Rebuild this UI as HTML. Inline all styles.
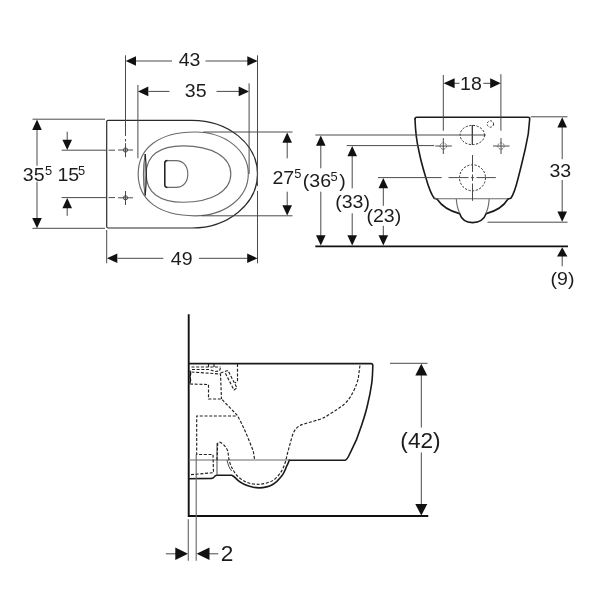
<!DOCTYPE html>
<html>
<head>
<meta charset="utf-8">
<title>Wall-hung WC dimensions</title>
<style>
html,body{margin:0;padding:0;background:#fff;}
body{width:606px;height:600px;overflow:hidden;}
svg{display:block;filter:grayscale(1);}
text{font-family:"Liberation Sans",sans-serif;fill:#1c1c1c;}
.n{fill:none;stroke:#4a4a4a;stroke-width:1;}
.g{fill:none;stroke:#6a6a6a;stroke-width:1.15;}
.k{fill:none;stroke:#1a1a1a;stroke-width:1.6;stroke-linejoin:round;stroke-linecap:round;}
.m{fill:none;stroke:#2a2a2a;stroke-width:1.2;}
.d{fill:none;stroke:#222;stroke-width:1.15;stroke-dasharray:3 1.7;}
.c{fill:none;stroke:#2e2e2e;stroke-width:1;stroke-dasharray:2.2 1.5;}
.a{fill:#111;stroke:none;}
</style>
</head>
<body>
<svg width="606" height="600" viewBox="0 0 606 600">
<rect width="606" height="600" fill="#fff"/>
<g id="plan">
<path class="m" d="M106.7 121.5 Q106.7 120.3 108 120.3 L192 120.3 C228 120.3 257.5 144 257.5 174 C257.5 204 228 228 192 228 L108.2 228 Q106.7 228 106.7 226.5 Z"/>
<path class="g" d="M138.2 174 C138.2 148 159 132 195 132 C226 132 248.3 151 248.3 174 C248.3 197 226 215.8 195 215.8 C159 215.8 138.2 200 138.2 174 Z"/>
<path class="g" d="M146.2 174 C146.2 155 160 145.8 183 145.8 C212 145.8 230.8 157 230.8 174 C230.8 191 212 202.2 183 202.2 C160 202.2 146.2 193 146.2 174 Z"/>
<path d="M145.2 154 Q141.6 174 145.2 195.5 Q147.4 174 145.2 154 Z" fill="#bdbdbd" stroke="none"/>
<path class="g" d="M145.2 154 Q141.6 174 145.2 195.5"/>
<path d="M145.2 154 Q147.4 174 145.2 195.5" fill="none" stroke="#222" stroke-width="1.2"/>
<path class="g" d="M166.3 160.6 L176 160.6 C183.5 160.6 187.8 166 187.8 174 C187.8 182 183.5 187.4 176 187.4 L166.3 187.4"/>
<path d="M167.3 160.6 Q164.8 160.8 164.8 163 L164.8 185 Q164.8 187.2 167.3 187.4" fill="none" stroke="#1a1a1a" stroke-width="1.5"/>
<path class="n" d="M125.5 55.3 V136 M125.5 139 V141.5 M257.5 55.3 V186 M257.5 190.8 V263.3"/>
<path class="n" d="M136 61 H172 M205.5 61 H248"/>
<polygon class="a" points="125.7,61.0 136.0,56.2 136.0,65.8"/>
<polygon class="a" points="257.6,61.0 247.3,56.2 247.3,65.8"/>
<text transform="translate(189.6,66.1) scale(1.03,1)" font-size="19.0" text-anchor="middle">43</text>
<path class="n" d="M137.9 85 V158.3 M249.1 83.3 V174"/>
<path class="n" d="M148.5 91.4 H169.5 M216.5 91.4 H239"/>
<polygon class="a" points="138.0,91.4 148.3,86.6 148.3,96.2"/>
<polygon class="a" points="249.0,91.4 238.7,86.6 238.7,96.2"/>
<text transform="translate(195.7,96.5) scale(1.03,1)" font-size="19.0" text-anchor="middle">35</text>
<path class="n" d="M106.7 230 V263.3"/>
<path class="n" d="M117.5 258.3 H163.3 M199 258.3 H247.5"/>
<polygon class="a" points="107.0,258.3 117.3,253.5 117.3,263.1"/>
<polygon class="a" points="257.5,258.3 247.2,253.5 247.2,263.1"/>
<text transform="translate(181.7,265.3) scale(1.03,1)" font-size="19.0" text-anchor="middle">49</text>
<g class="n"><circle cx="125.5" cy="150" r="2.1"/><path d="M125.5 143.2 V157.2 M118 150 H133"/><circle cx="125.5" cy="197.8" r="2.1"/><path d="M125.5 191 V205 M118 197.8 H133"/></g>
<path class="n" d="M61.7 150.2 H106.7 M108.5 150.2 H115 M61.7 197.6 H106.7 M108.5 197.6 H115"/>
<path class="n" d="M67.2 131.7 V141 M67.2 207 V215.8"/>
<polygon class="a" points="67.2,150.0 62.4,139.7 72.0,139.7"/>
<polygon class="a" points="67.2,198.0 62.4,208.3 72.0,208.3"/>
<path class="n" d="M32.5 119.2 H105 M32.5 228.3 H105"/>
<path class="n" d="M37 129 V165.8 M37 181.7 V219"/>
<polygon class="a" points="37.0,119.6 32.2,129.9 41.8,129.9"/>
<polygon class="a" points="37.0,228.2 32.2,217.9 41.8,217.9"/>
<text transform="translate(22.8,181.1) scale(1.03,1)" font-size="19.0" text-anchor="start">35</text>
<text transform="translate(44.9,174.9) scale(1.03,1)" font-size="12.5" text-anchor="start">5</text>
<text transform="translate(57.4,181.1) scale(1.03,1)" font-size="19.0" text-anchor="start">15</text>
<text transform="translate(77.9,174.9) scale(1.03,1)" font-size="12.5" text-anchor="start">5</text>
<path class="n" d="M203.3 132 H292.5 M201.7 215.8 H292.5"/>
<path class="n" d="M287.2 142 V158.3 M287.2 191.7 V206.5"/>
<polygon class="a" points="287.2,132.4 282.4,142.7 292.0,142.7"/>
<polygon class="a" points="287.2,215.6 282.4,205.3 292.0,205.3"/>
<text transform="translate(272.4,183.6) scale(1.03,1)" font-size="19.0" text-anchor="start">27</text>
<text transform="translate(294.2,177.8) scale(1.03,1)" font-size="12.5" text-anchor="start">5</text>
</g>
<g id="rear">
<path d="M315.3 246.3 H568" fill="none" stroke="#111" stroke-width="1.8"/>
<path class="k" d="M415 119 Q415 117.2 416.8 117.2 L528 117.2 Q529.8 117.2 529.7 119 C529 135 526 146 525 150 C522 163 520 171 518.3 177.5 C516 187 514 194 510.8 198.3 L508 199"/>
<path class="k" d="M415 119 C415.5 133 417.5 145 418.7 150 C421 162 423.5 170 425.8 177.5 C428.5 187 431 194 434.2 198.3 L437 199"/>
<path class="k" d="M437 199 C442 206.5 450.5 211.3 459.6 213.6 C461.6 220 467 222.6 472.5 222.6 C478 222.6 484 220 486.2 213.6 C495.5 211.3 503.5 206.5 508 199"/>
<path class="g" d="M434.2 198.7 H507.5"/>
<path class="g" d="M456.3 199 C456.8 205 457.8 210 460 213.3 M489.2 199 C488.7 205 487.8 210 485.8 213.3"/>
<path class="n" d="M443.3 75 V130.7 M500.9 74.2 V130.7"/>
<path class="n" d="M454 83.3 H459.5 M483.3 83.3 H491"/>
<polygon class="a" points="443.6,83.3 454.6,78.3 454.6,88.3"/>
<polygon class="a" points="500.8,83.3 490.2,78.3 490.2,88.3"/>
<text transform="translate(470.9,90.3) scale(1.03,1)" font-size="19.0" text-anchor="middle">18</text>
<g class="n"><circle cx="443.3" cy="146" r="3.2" stroke-dasharray="1.6 1.2"/><path d="M443.3 138 V154 M435.3 146 H451.8"/><circle cx="501" cy="146" r="3.2" stroke-dasharray="1.6 1.2"/><path d="M501 138 V154 M493 146 H509.5"/></g>
<ellipse class="c" cx="472.3" cy="135" rx="12.2" ry="9.6"/>
<path class="m" d="M472.3 125 V144.8"/>
<circle class="c" cx="490.4" cy="124" r="3.2" style="stroke-dasharray:2 1.6"/>
<circle class="c" cx="472.5" cy="177.8" r="13"/>
<path class="n" d="M472.5 155 V172 M472.5 174.5 V181 M472.5 183.5 V200.8"/>
<path class="n" d="M315.3 135 H485.8"/>
<path class="n" d="M346.7 145.6 H434.2"/>
<path class="n" d="M378 177.6 H441.7 M448.5 177.6 H468.5 M471 177.6 H474 M476.5 177.6 H495.8"/>
<path class="n" d="M320.8 145 V168.3 M320.8 191.7 V236"/>
<path class="n" d="M352.2 156 V188.3 M352.2 213.3 V236"/>
<path class="n" d="M383.3 187.5 V205.8 M383.3 225.8 V236"/>
<polygon class="a" points="320.8,135.4 316.0,145.7 325.6,145.7"/>
<polygon class="a" points="320.8,245.6 316.0,235.3 325.6,235.3"/>
<polygon class="a" points="352.2,146.0 347.4,156.3 357.0,156.3"/>
<polygon class="a" points="352.2,245.6 347.4,235.3 357.0,235.3"/>
<polygon class="a" points="383.3,178.0 378.5,188.3 388.1,188.3"/>
<polygon class="a" points="383.3,245.6 378.5,235.3 388.1,235.3"/>
<text transform="translate(302.8,186.5) scale(1.03,1)" font-size="19.0" text-anchor="start">(36</text>
<text transform="translate(330.6,180.5) scale(1.03,1)" font-size="12.5" text-anchor="start">5</text>
<text transform="translate(339.2,186.5) scale(1.03,1)" font-size="19.0" text-anchor="start">)</text>
<text transform="translate(335.2,207.9) scale(1.03,1)" font-size="19.0" text-anchor="start">(33)</text>
<text transform="translate(366.4,222.1) scale(1.03,1)" font-size="19.0" text-anchor="start">(23)</text>
<path class="n" d="M530.8 116.8 H567.5 M487.5 222.2 H567.5"/>
<path class="n" d="M562.2 127 V159.2 M562.2 180 V212"/>
<polygon class="a" points="562.2,117.2 557.4,127.5 567.0,127.5"/>
<polygon class="a" points="562.2,221.8 557.4,211.5 567.0,211.5"/>
<text transform="translate(560.3,176.7) scale(1.03,1)" font-size="19.0" text-anchor="middle">33</text>
<path class="n" d="M562.2 256 V266.3"/>
<polygon class="a" points="562.2,247.2 557.0,256.6 567.4,256.6"/>
<text transform="translate(562.5,284.5) scale(1.03,1)" font-size="19.0" text-anchor="middle">(9)</text>
</g>
<g id="side">
<path d="M188.7 314.2 V516 H428.3" fill="none" stroke="#111" stroke-width="1.9" stroke-linejoin="miter"/>
<path class="k" d="M188.7 363.6 H371 Q372.8 363.6 372.8 365.4 C372.6 375 372.2 380 371.7 383.3 C370.5 392 369 399 367.5 405 C366 412 364 418 361.7 425 C359 434 355 444 350 453.3 Q347 460.2 345 460.2 H289.3"/>
<path class="k" d="M289.3 460.2 C288.5 462 288 464 286.7 466 C285 471 283 475 280 478 C276 483 271 486 266.7 486.9 C262 488 257 488 253.3 487.3 C247 486 242 484 238.3 480.7 C236 478.5 234 476 231.7 475.2 H217 Q215.3 475.4 214.5 476.6 Q213.5 478.2 211.5 478.4 L188.7 478.7"/>
<path d="M189.9 370.5 Q191.3 373.5 190 376.5 Q191.3 380 189.9 383.5" fill="none" stroke="#111" stroke-width="1.3"/>
<path class="g" d="M188.7 460 H289.3"/>
<path class="g" d="M196.2 454.5 V560.8 M188.3 519.2 V560.8"/>
<path class="n" d="M217 443 V475.2 M227 460 C228 465 229.5 468.5 231.7 471"/>
<g class="d">
<path d="M191.5 367 H220.5 M208.5 364 V367.5 M214 364 V367.5"/>
<path d="M192 369.5 H209.5 L215 371.5 L219.5 371 L220.5 367.5"/>
<path d="M191.5 372 L220.5 374 L221.5 399"/>
<path d="M220.5 373 L228 370.5 L237 388 L234 390 L225 372.5"/>
<path d="M237.5 364 V381 L235 383"/>
<path d="M190 384 L208.5 384.5 V399 H221.5 L237 415 C243 425 249 440 253.3 451.3 L254.7 460"/>
<path d="M235.7 416 H196.7 V454.5 H213 L213.5 472.7 L190 474.7"/>
<path d="M217 460 L217.7 443.5 Q218.5 441.8 220 442.3 C224 444 227.2 448.5 228 452 L229 460 C231 467 234 472.5 238 476.7 C243 481 248 483.5 253.3 484 C258 484.6 262 484.4 266.7 483 C271 481.8 274.5 480 277.3 476.7 C280.5 473 282.5 470 284 466 C285.5 462 286.5 458 287.3 454 L292 436.7 C293 433 294.5 430.5 296 428.7 C298 426.3 300.5 425 304 424 L320 419.3 C324 417.8 326 416.6 328.3 415 C334 411.5 339 408.5 343.3 405 C348 401 351 396.5 353.3 391.7 C356 386 357.5 382 358.3 378.3 L360 365"/>
</g>
<path class="n" d="M390 363.3 H427.5"/>
<path class="n" d="M421.3 375 V427.5 M421.3 452.5 V504.5"/>
<polygon class="a" points="421.3,363.8 415.3,375.6 427.3,375.6"/>
<polygon class="a" points="421.3,515.6 415.3,504.0 427.3,504.0"/>
<text transform="translate(420.5,447.6) scale(1.03,1)" font-size="22.0" text-anchor="middle">(42)</text>
<path class="n" d="M165.8 553.8 H176 M209 553.8 H218.3"/>
<polygon class="a" points="188.0,553.8 175.3,547.6 175.3,560.0"/>
<polygon class="a" points="196.6,553.8 209.5,547.6 209.5,560.0"/>
<text transform="translate(220.8,561.1) scale(1.03,1)" font-size="22.0" text-anchor="start">2</text>
</g>
</svg>
</body>
</html>
